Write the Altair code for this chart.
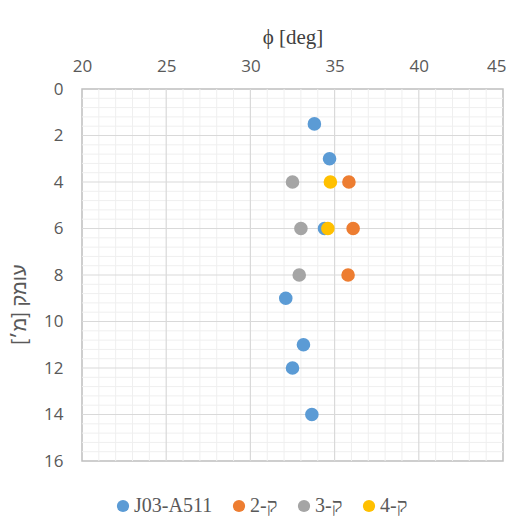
import altair as alt
import pandas as pd

# ---- data ----
series_names = ["J03-A511", "ק-2", "ק-3", "ק-4"]
series_colors = ["#5B9BD5", "#ED7D31", "#A5A5A5", "#FFC000"]

j03_phi = [33.8, 34.7, 34.4, 32.1, 33.15, 32.5, 33.65]
j03_depth = [1.5, 3, 6, 9, 11, 12, 14]
k2_phi = [35.85, 36.1, 35.8]
k2_depth = [4, 6, 8]
k3_phi = [32.5, 33.0, 32.9]
k3_depth = [4, 6, 8]
k4_phi = [34.75, 34.6]
k4_depth = [4, 6]

x_ticks = [20, 25, 30, 35, 40, 45]
y_ticks = [0, 2, 4, 6, 8, 10, 12, 14, 16]
x_minor = [v for v in range(21, 45) if v % 5 != 0]
y_minor = [round(i * 0.4, 1) for i in range(1, 40) if i % 5 != 0]
x_major = [25, 30, 35, 40]
y_major = [2, 4, 6, 8, 10, 12, 14]

rows = []
for name, phis, depths in [
    (series_names[0], j03_phi, j03_depth),
    (series_names[1], k2_phi, k2_depth),
    (series_names[2], k3_phi, k3_depth),
    (series_names[3], k4_phi, k4_depth),
]:
    for p, d in zip(phis, depths):
        rows.append({"series": name, "phi": p, "depth": d})
df = pd.DataFrame(rows)

xscale = alt.Scale(domain=[20, 45], nice=False, zero=False)
yscale = alt.Scale(domain=[0, 16], nice=False, reverse=True)

x_axis = alt.Axis(
    orient="top",
    values=x_ticks,
    grid=False,
    ticks=False,
    tickSize=0,
    domain=False,
    labelFlush=False,
    labelAlign={"condition": {"test": "datum.value == 45", "value": "right"}, "value": "center"},
    labelOffset={"condition": {"test": "datum.value == 45", "value": 3}, "value": 0},
    labelFont="Open Sans",
    labelFontSize=17,
    labelColor="#595959",
    labelPadding=14,
    title="ϕ [deg]",
    titleFont="Liberation Serif",
    titleFontSize=21,
    titleFontWeight="normal",
    titleColor="#404040",
    titleX=210.5,
    titleY=-46,
    titleBaseline="alphabetic",
    titleAlign="center",
)
y_axis = alt.Axis(
    values=y_ticks,
    grid=False,
    ticks=False,
    tickSize=0,
    domain=False,
    labelFlush=False,
    labelFont="Open Sans",
    labelFontSize=17,
    labelColor="#595959",
    labelPadding=19,
    title="עומק [מ׳]",
    titleFont="Liberation Sans",
    titleFontSize=20,
    titleFontWeight="normal",
    titleColor="#595959",
    titleAngle=-90,
    titleX=-63,
    titleY=215,
    titleAlign="center",
    titleBaseline="middle",
)

X = lambda: alt.X("phi:Q", scale=xscale, axis=x_axis)
Y = lambda: alt.Y("depth:Q", scale=yscale, axis=y_axis)

minor_x = alt.Chart(pd.DataFrame({"phi": x_minor})).mark_rule(
    color="#EFEFEF", strokeWidth=1
).encode(x=X())
minor_y = alt.Chart(pd.DataFrame({"depth": y_minor})).mark_rule(
    color="#EFEFEF", strokeWidth=1
).encode(y=Y())
major_x = alt.Chart(pd.DataFrame({"phi": x_major})).mark_rule(
    color="#D9D9D9", strokeWidth=1.2
).encode(x=X())
major_y = alt.Chart(pd.DataFrame({"depth": y_major})).mark_rule(
    color="#D9D9D9", strokeWidth=1.2
).encode(y=Y())

points = alt.Chart(df).mark_circle(size=185, opacity=1).encode(
    x=X(),
    y=Y(),
    color=alt.Color(
        "series:N",
        scale=alt.Scale(domain=series_names, range=series_colors),
        legend=alt.Legend(
            title=None,
            orient="none",
            direction="horizontal",
            legendX=31,
            legendY=407,
            symbolType="circle",
            symbolSize=150,
            symbolStrokeWidth=0,
            symbolOpacity=1,
            labelFont="Liberation Serif",
            labelFontSize=20,
            labelColor="#595959",
            labelOffset=1,
            columnPadding=16,
        ),
    ),
)

chart = (
    alt.layer(minor_x, minor_y, major_x, major_y, points)
    .properties(
        width=421,
        height=372,
        autosize=alt.AutoSizeParams(type="none"),
        padding={"left": 74, "top": 81, "right": 3, "bottom": 60},
    )
    .configure_view(stroke="#BFBFBF", strokeWidth=1.5)
)

chart.save("out.html", embed_options={"renderer": "svg", "actions": False})
